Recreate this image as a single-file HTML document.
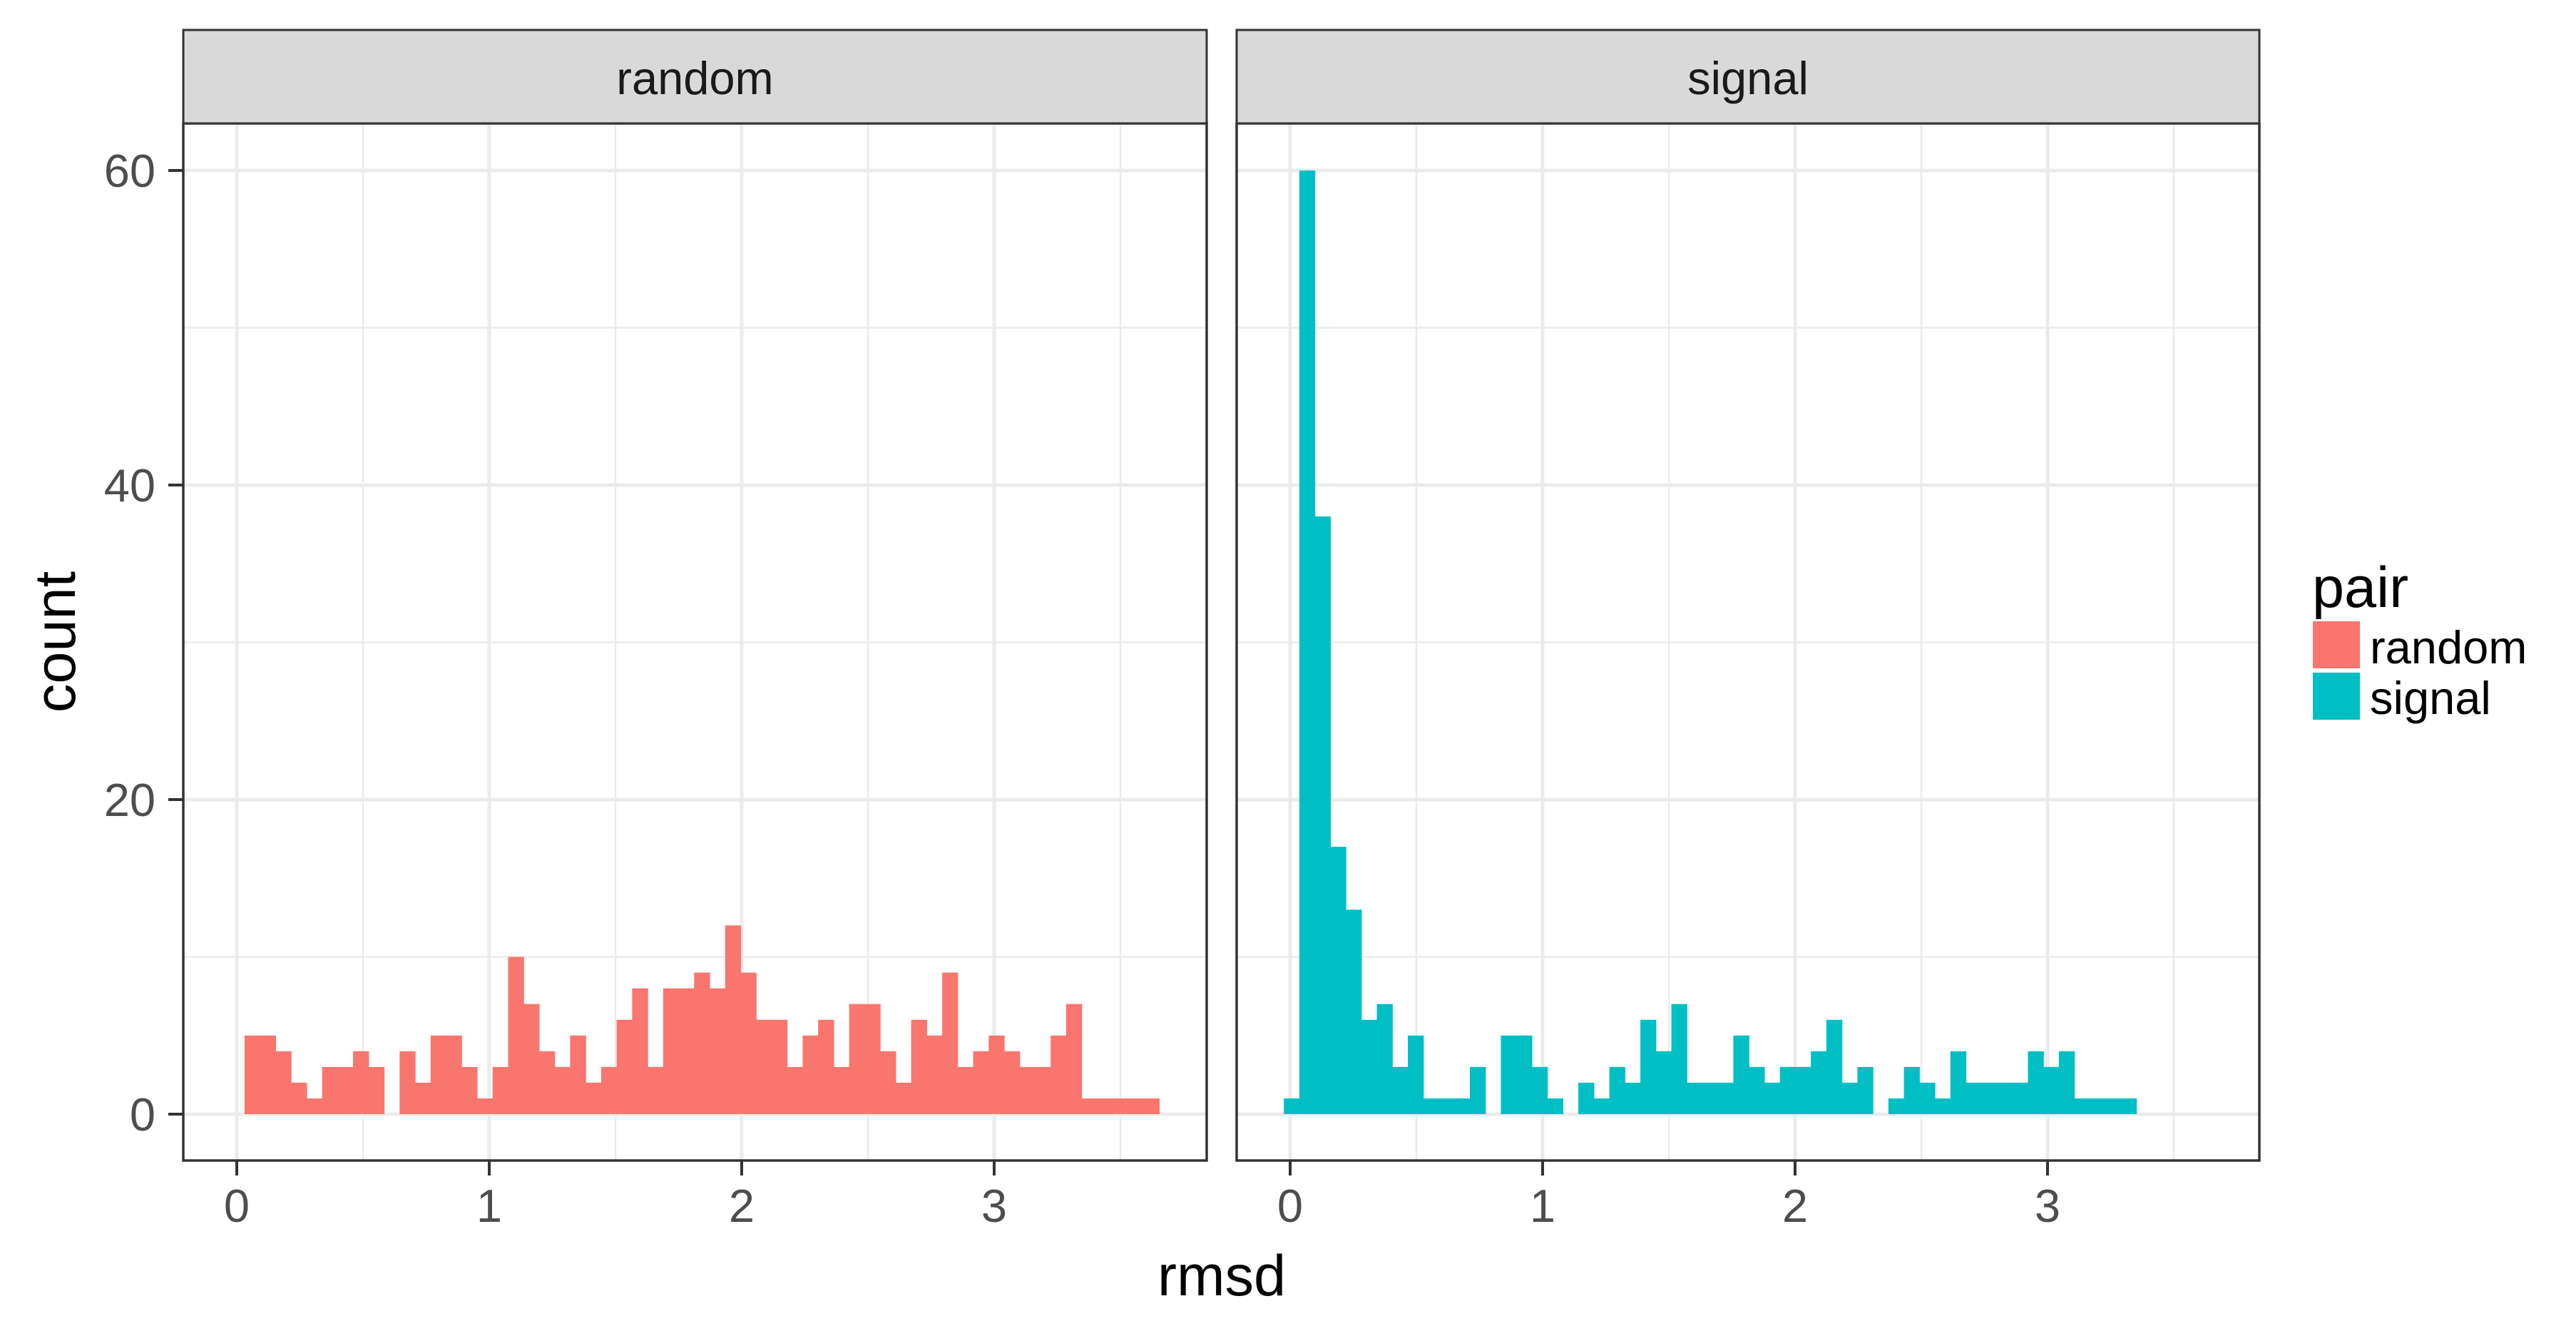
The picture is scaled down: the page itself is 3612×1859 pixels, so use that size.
<!DOCTYPE html>
<html><head><meta charset="utf-8"><style>
html,body{margin:0;padding:0;background:#fff;}
svg{display:block;font-family:"Liberation Sans",Arial,sans-serif;}
</style></head><body>
<svg id="chart" width="3612" height="1859" viewBox="0 0 3612 1859" xmlns="http://www.w3.org/2000/svg"></svg>
<script>
const randomCounts = [5,5,4,2,1,3,3,4,3,0,4,2,5,5,3,1,3,10,7,4,3,5,2,3,6,8,3,8,8,9,8,12,9,6,6,3,5,6,3,7,7,4,2,6,5,9,3,4,5,4,3,3,5,7,1,1,1,1,1];
const signalCounts = [1,60,38,17,13,6,7,3,5,1,1,1,3,0,5,5,3,1,0,2,1,3,2,6,4,7,2,2,2,5,3,2,3,3,4,6,2,3,0,1,3,2,1,4,2,2,2,2,4,3,4,1,1,1,1];
const binWidth = 0.0614;
const randomStart = 0.031;
const signalStart = -0.025;
const xTicks = [0,1,2,3];
const xMinor = [0.5,1.5,2.5,3.5];
const yTicks = [0,20,40,60];
const yMinor = [10,30,50];
const panelNames = ["random","signal"];

const NS = "http://www.w3.org/2000/svg";
const svg = document.getElementById("chart");
const panels = [
  {x0:257, x1:1692, zeroX:332, counts:randomCounts, start:randomStart, color:"#F8766D", name:"random"},
  {x0:1734, x1:3168, zeroX:1809, counts:signalCounts, start:signalStart, color:"#00BFC4", name:"signal"}
];
const PT = 173, PB = 1627, ST = 42;
const unitX = 354;
function yScale(c){ return 1562 - c*22.05; }
function mk(tag, attrs, parent){
  const e = document.createElementNS(NS, tag);
  for (const k in attrs) e.setAttribute(k, attrs[k]);
  (parent||svg).appendChild(e);
  return e;
}

panels.forEach((p, pi) => {
  const xScale = v => p.zeroX + v*unitX;
  const g = mk("g", {});
  
  
  const bg = mk("rect", {x:p.x0, y:PT, width:p.x1-p.x0, height:PB-PT, fill:"#fff"}, g);
  
  
  yMinor.forEach(v => {
    const l = mk("line", {x1:p.x0, x2:p.x1, y1:yScale(v), y2:yScale(v), stroke:"#ebebeb", "stroke-width":2.5}, g);
    
    
  });
  xMinor.forEach(v => {
    const l = mk("line", {x1:xScale(v), x2:xScale(v), y1:PT, y2:PB, stroke:"#ebebeb", "stroke-width":2.5}, g);
    
    
  });
  yTicks.forEach(v => {
    const l = mk("line", {x1:p.x0, x2:p.x1, y1:yScale(v), y2:yScale(v), stroke:"#ebebeb", "stroke-width":5}, g);
    
    
  });
  xTicks.forEach(v => {
    const l = mk("line", {x1:xScale(v), x2:xScale(v), y1:PT, y2:PB, stroke:"#ebebeb", "stroke-width":5}, g);
    
    
  });
  p.counts.forEach((c, i) => {
    if (c <= 0) return;
    const xa = xScale(p.start + i*binWidth), xb = xScale(p.start + (i+1)*binWidth);
    const r = mk("rect", {x:xa, y:yScale(c), width:xb-xa+0.6, height:yScale(0)-yScale(c), fill:p.color}, g);
    
    
  });
  const border = mk("rect", {x:p.x0, y:PT, width:p.x1-p.x0, height:PB-PT, fill:"none", stroke:"#333", "stroke-width":3.5}, g);
  
  
  const strip = mk("rect", {x:p.x0, y:ST, width:p.x1-p.x0, height:PT-ST, fill:"#d9d9d9", stroke:"#333", "stroke-width":3}, g);
  
  
  const st = mk("text", {x:(p.x0+p.x1)/2, y:132, "text-anchor":"middle", "font-size":65, fill:"#1a1a1a"}, g);
  st.textContent = panelNames[pi];
  
  
  xTicks.forEach(v => {
    const t = mk("line", {x1:xScale(v), x2:xScale(v), y1:PB, y2:PB+21, stroke:"#333", "stroke-width":4}, g);
    
    
    const lb = mk("text", {x:xScale(v), y:1713, "text-anchor":"middle", "font-size":65, fill:"#4d4d4d"}, g);
    lb.textContent = v;
    
    
  });
});

yTicks.forEach(v => {
  const t = mk("line", {x1:236, x2:257, y1:yScale(v), y2:yScale(v), stroke:"#333", "stroke-width":4});
  
  
  const lb = mk("text", {x:218, y:yScale(v)+23, "text-anchor":"end", "font-size":65, fill:"#4d4d4d"});
  lb.textContent = v;
  
  
});

const xt = mk("text", {x:1713, y:1816, "text-anchor":"middle", "font-size":81, fill:"#000"});
xt.textContent = "rmsd";


const yt = mk("text", {x:0, y:0, "text-anchor":"middle", "font-size":81, fill:"#000", transform:"translate(105,900) rotate(-90)"});
yt.textContent = "count";



const lg = mk("g", {});


const lt = mk("text", {x:3242, y:851, "font-size":81, fill:"#000"}, lg);
lt.textContent = "pair";


[["random","#F8766D",871,930],["signal","#00BFC4",943,1001]].forEach(e => {
  const k = mk("rect", {x:3243, y:e[2], width:66, height:66, fill:e[1]}, lg);
  
  
  const t = mk("text", {x:3323, y:e[3], "font-size":65, fill:"#000"}, lg);
  t.textContent = e[0];
  
  
});
</script>
</body></html>
